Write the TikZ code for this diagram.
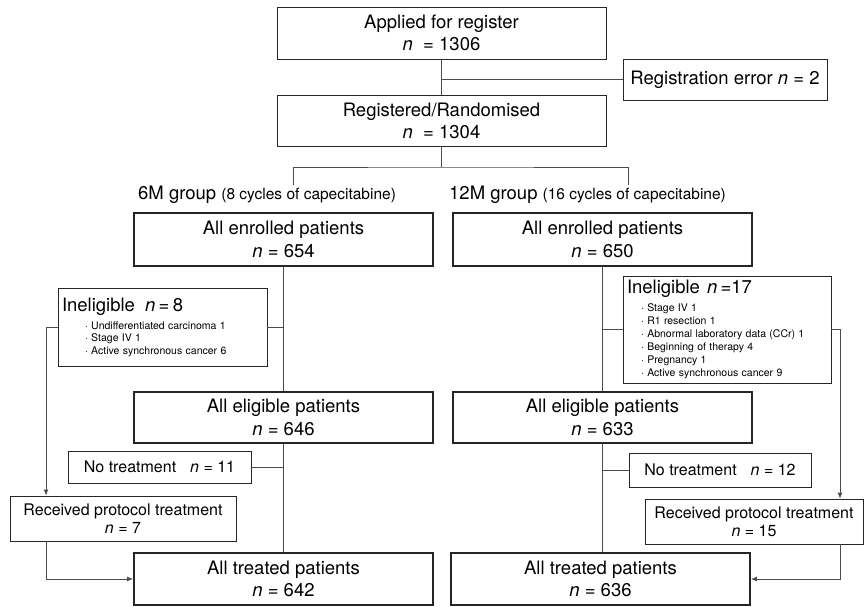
\documentclass[tikz,border=0pt]{standalone}
\usepackage{fontspec}
\setmainfont{TeX Gyre Heros}
\usetikzlibrary{arrows.meta}

\newcommand{\ncount}{\textit{n}}
\newcommand{\inelitem}[2]{\hspace*{#1}·\ #2\par}
\tikzset{
    box/.style={draw=black!85,line width=0.9pt,align=center,inner sep=2pt},
    topbox/.style={box,minimum width=329pt,minimum height=52pt,
        font=\fontsize{18.5}{22}\selectfont},
    mainbox/.style={box,line width=1.8pt,minimum width=299pt,minimum height=52pt,
        font=\fontsize{18.5}{22.5}\selectfont},
    sidebox/.style={box,font=\fontsize{16}{18}\selectfont},
    listbox/.style={box,align=left,inner xsep=4pt,inner ysep=2pt},
    grouplabel/.style={anchor=west,inner sep=2pt,font=\fontsize{18.5}{20}\selectfont},
    link/.style={draw=black!70,line width=0.9pt},
}

\begin{document}
\begin{tikzpicture}[x=1pt,y=-1pt,>={Latex[length=6pt,width=5pt]}]
        \useasboundingbox (0,0) rectangle (864,607);

        % registration
        \node[topbox] (apply) at (441.5,33)
            {Applied for register\\\ncount\ \ = 1306};
        \node[box,minimum width=204pt,minimum height=41pt,
            font=\fontsize{18.5}{20}\selectfont] (regerr) at (725,79.5)
            {Registration error \ncount{} = 2};
        \node[topbox,minimum height=51pt] (regist) at (441.5,120.5)
            {Registered/Randomised\\\ncount\ \ = 1304};

        \node[grouplabel] (grpL) at (136,195)
            {6M group {\fontsize{15.5}{16}\selectfont(8 cycles of capecitabine)}};
        \node[grouplabel] (grpR) at (447,195)
            {12M group {\fontsize{15.5}{16}\selectfont(16 cycles of capecitabine)}};

        % 6M arm
        \node[mainbox,minimum height=53pt] (enrolL) at (283.5,239.5)
            {All enrolled patients\\\ncount{} = 654};
        \node[listbox,text width=201pt,minimum height=78pt] (inelL) at (162.5,327)
            {{\fontsize{18.5}{20}\selectfont Ineligible\hspace{10pt}\ncount{} = 8\par}
             \vspace{5.5pt}
             {\fontsize{10.5}{12.5}\selectfont
              \inelitem{23pt}{Undifferentiated carcinoma 1}
              \inelitem{23pt}{Stage IV 1}
              \inelitem{23pt}{Active synchronous cancer 6}}};
        \node[mainbox,minimum height=51pt] (eligL) at (283.5,417.5)
            {All eligible patients\\\ncount{} = 646};
        \node[sidebox,minimum width=183pt,minimum height=32pt] (notrL) at (159.5,467)
            {No treatment\hspace{14pt}\ncount{} = 11};
        \node[sidebox,minimum width=226pt,minimum height=45pt] (recvL) at (123,518.5)
            {Received protocol treatment\\\ncount{} = 7};
        \node[mainbox] (treatL) at (283.5,579)
            {All treated patients\\\ncount{} = 642};

        % 12M arm
        \node[mainbox,minimum height=53pt] (enrolR) at (602.5,239.5)
            {All enrolled patients\\\ncount{} = 650};
        \node[listbox,text width=200pt,minimum height=107pt] (inelR) at (727,329.5)
            {{\fontsize{18.5}{20}\selectfont Ineligible\hspace{7pt}\ncount{} =17\par}
             \vspace{5pt}
             {\fontsize{10.5}{13}\selectfont
              \inelitem{14pt}{Stage IV 1}
              \inelitem{14pt}{R1 resection 1}
              \inelitem{14pt}{Abnormal laboratory data (CCr) 1}
              \inelitem{14pt}{Beginning of therapy 4}
              \inelitem{14pt}{Pregnancy 1}
              \inelitem{14pt}{Active synchronous cancer 9}}};
        \node[mainbox,minimum height=51pt] (eligR) at (602.5,417.5)
            {All eligible patients\\\ncount{} = 633};
        \node[sidebox,minimum width=182pt,minimum height=34pt] (notrR) at (720,470)
            {No treatment\hspace{14pt}\ncount{} = 12};
        \node[sidebox,minimum width=218pt,minimum height=45pt] (recvR) at (754,521.5)
            {Received protocol treatment\\\ncount{} = 15};
        \node[mainbox] (treatR) at (600.5,579)
            {All treated patients\\\ncount{} = 636};

        \coordinate (fork) at (441.5,167);
        \coordinate (splitL) at (293,185);
        \coordinate (splitR) at (628,185);
        \coordinate (fbL) at (46,0);
        \coordinate (fbR) at (840,0);

        % connectors
        \draw[link] (apply) -- (regist);
        \draw[link] (regerr.west) -- (regerr.west -| apply.south);
        \draw[link] (regist.south) -- (fork);
        \draw[link] (splitL) |- (fork) -| (splitR);

        \draw[link] (enrolL) -- (eligL);
        \draw[link] (inelL.east) -- (inelL.east -| enrolL.south);
        \draw[link] (eligL) -- (treatL);
        \draw[link] (notrL.east) -- (notrL.east -| eligL.south);
        \draw[link,->] (inelL.west) -| (fbL |- recvL.north);
        \draw[link,->] (fbL |- recvL.south) |- (treatL.west);

        \draw[link] (enrolR) -- (eligR);
        \draw[link] (inelR.west) -- (inelR.west -| enrolR.south);
        \draw[link] (eligR.south) -- (eligR.south |- treatR.north);
        \draw[link] (notrR.west) -- (notrR.west -| eligR.south);
        \draw[link,->] (inelR.east) -| (fbR |- recvR.north);
        \draw[link,->] (fbR |- recvR.south) |- (treatR.east);
\end{tikzpicture}
\end{document}
